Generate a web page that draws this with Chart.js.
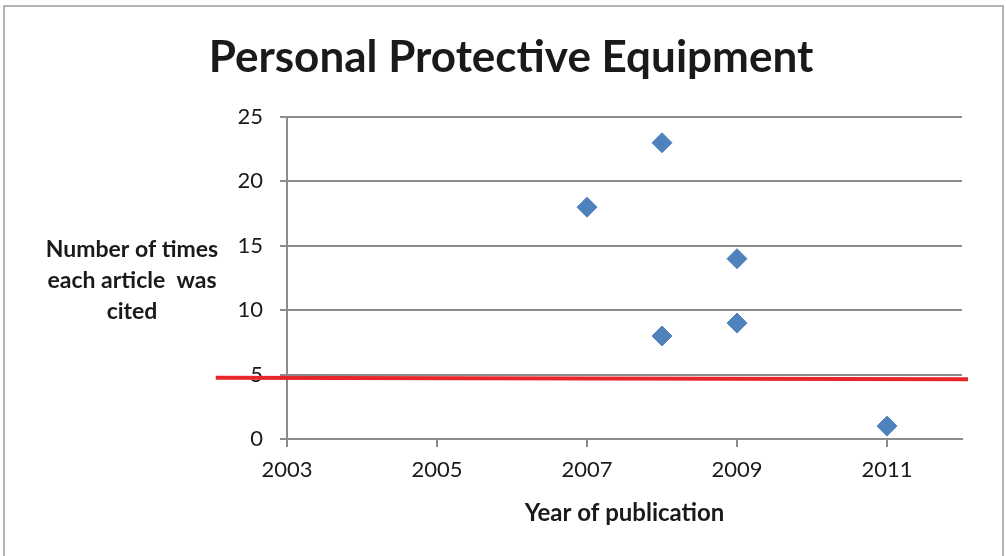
<!DOCTYPE html>
<html>
<head>
<meta charset="utf-8">
<script src="https://cdn.jsdelivr.net/npm/chart.js@4.4.1/dist/chart.umd.min.js"></script>
<style>
    html, body { margin: 0; padding: 0; background: #ffffff; }
    #wrap { position: relative; width: 1006px; height: 556px; }
</style>
</head>
<body>
<div id="wrap"><canvas id="ppeChart" width="1006" height="556"></canvas></div>
<script>
// values
const years = [2007, 2008, 2008, 2009, 2009, 2011];
const citations = [18, 23, 8, 14, 9, 1];
const xTicks = [2003, 2005, 2007, 2009, 2011];
const yTicks = [0, 5, 10, 15, 20, 25];
// red threshold line, hand drawn over the chart (ends outside the plot)
const redLineX = [2002.05, 2012.08];
const redLineY = [4.76, 4.63];

const titleText = "Personal Protective Equipment";
const yTitleLines = ["Number of times", "each article  was", "cited"];
const xTitleText = "Year of publication";

const FONT = "Lato, 'Open Sans', sans-serif";
const GRID = "#8c8c8c";

const decorations = {
    id: "decorations",
    beforeDraw(chart) {
        const ctx = chart.ctx;
        ctx.save();
        ctx.strokeStyle = "#9a9a9a";
        ctx.lineWidth = 1.5;
        ctx.strokeRect(4, 6, 999, 600);
        ctx.restore();
    },
    afterDraw(chart) {
        const ctx = chart.ctx;
        const area = chart.chartArea;
        ctx.save();
        ctx.fillStyle = "#1a1a1a";
        ctx.textAlign = "center";
        ctx.textBaseline = "alphabetic";

        ctx.font = "bold 44px " + FONT;
        ctx.fillText(titleText, 511, 72);

        ctx.font = "bold 23px " + FONT;
        yTitleLines.forEach((line, i) => {
            ctx.fillText(line, 132, 257 + i * 31);
        });

        ctx.font = "bold 24px " + FONT;
        ctx.fillText(xTitleText, (area.left + area.right) / 2, 521);
        ctx.restore();
    },
};

new Chart(document.getElementById("ppeChart"), {
    type: "scatter",
    data: {
        datasets: [
            {
                label: "Citations",
                data: years.map((y, i) => ({ x: y, y: citations[i] })),
                pointStyle: "rectRot",
                pointRadius: 10,
                pointHoverRadius: 10,
                backgroundColor: "#4f81bd",
                borderColor: "#4f81bd",
                borderWidth: 1,
            },
            {
                label: "Threshold",
                type: "line",
                data: redLineX.map((x, i) => ({ x: x, y: redLineY[i] })),
                borderColor: "#e8262a",
                borderWidth: 4,
                pointRadius: 0,
                fill: false,
                clip: false,
            },
        ],
    },
    options: {
        responsive: false,
        animation: false,
        events: [],
        layout: {
            padding: { left: 0, right: 44, top: 117, bottom: 0 },
        },
        plugins: {
            legend: { display: false },
            title: { display: false },
            tooltip: { enabled: false },
        },
        scales: {
            x: {
                type: "linear",
                min: 2003,
                max: 2012,
                afterFit(scale) {
                    scale.height = 117;
                },
                afterBuildTicks(scale) {
                    scale.ticks = xTicks.map((v) => ({ value: v }));
                },
                grid: {
                    drawOnChartArea: false,
                    drawTicks: true,
                    tickLength: 8,
                    color: GRID,
                    lineWidth: 2,
                },
                border: { color: GRID, width: 2 },
                ticks: {
                    callback: (v) => String(v),
                    color: "#1a1a1a",
                    font: { family: FONT, size: 22 },
                    padding: 10,
                    maxRotation: 0,
                },
            },
            y: {
                min: 0,
                max: 25,
                afterFit(scale) {
                    scale.width = 287;
                },
                afterBuildTicks(scale) {
                    scale.ticks = yTicks.map((v) => ({ value: v }));
                },
                grid: {
                    drawTicks: true,
                    tickLength: 7,
                    color: GRID,
                    lineWidth: 2,
                },
                border: { color: GRID, width: 2 },
                ticks: {
                    color: "#1a1a1a",
                    font: { family: FONT, size: 22 },
                    padding: 17,
                },
            },
        },
    },
    plugins: [decorations],
});
</script>
</body>
</html>
